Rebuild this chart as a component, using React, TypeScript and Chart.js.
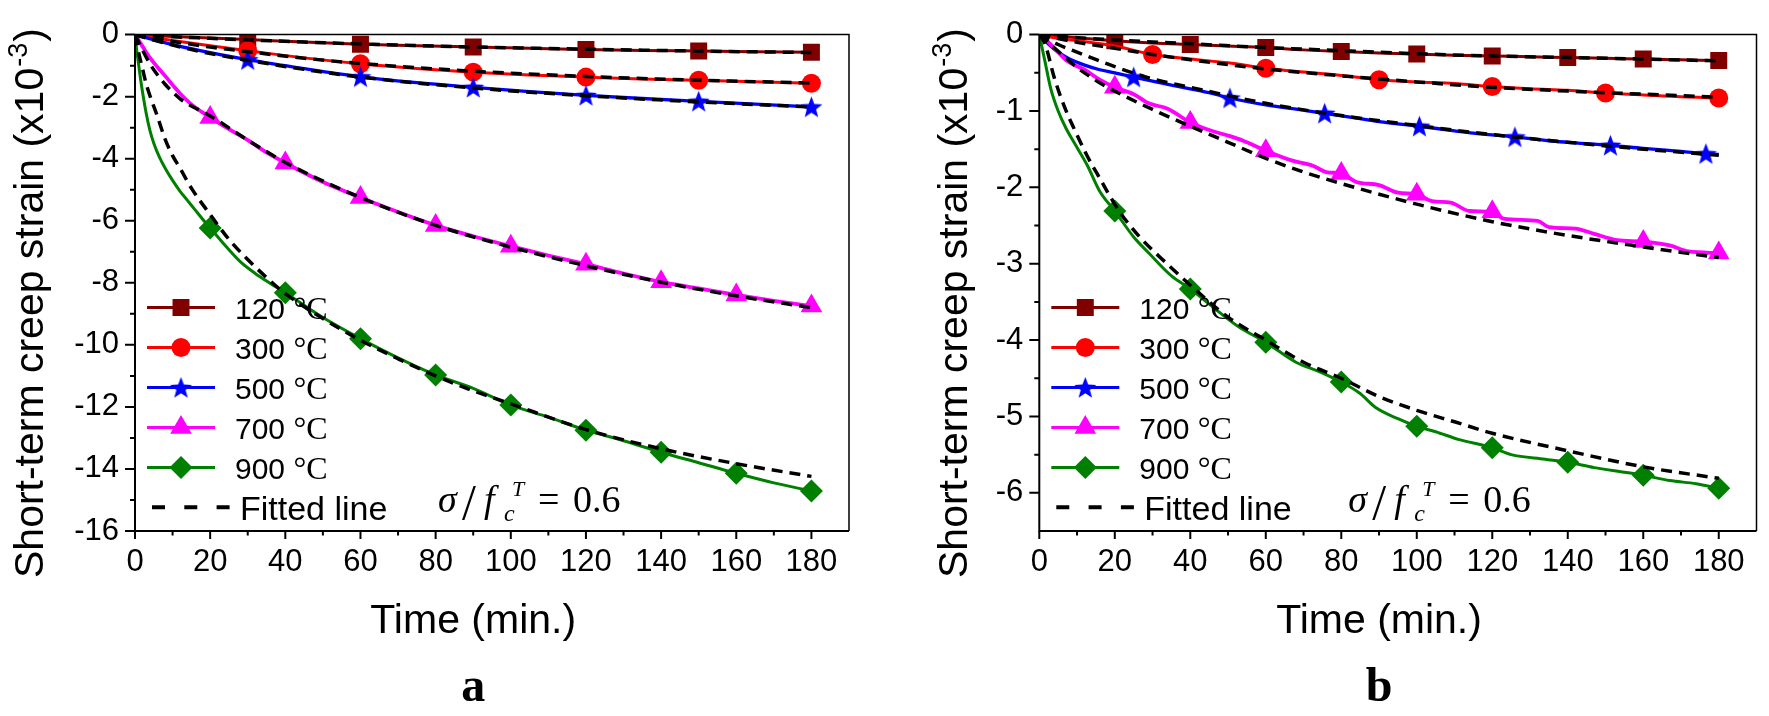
import React, { useEffect, useRef } from 'react';
import { Chart, registerables } from 'chart.js';

Chart.register(...registerables);

const SANS = "'Liberation Sans', Arial, Helvetica, sans-serif";
const SERIF = "'Liberation Serif', 'Times New Roman', Times, serif";

// ---------- axes ----------
const X_MIN = 0;
const X_MAX = 190;
const X_TICKS = [0, 20, 40, 60, 80, 100, 120, 140, 160, 180];
const X_MINOR = [10, 30, 50, 70, 90, 110, 130, 150, 170];
const A_Y_TICKS = [0, -2, -4, -6, -8, -10, -12, -14, -16];
const A_Y_MINOR = [-1, -3, -5, -7, -9, -11, -13, -15];
const B_Y_TICKS = [0, -1, -2, -3, -4, -5, -6];
const B_Y_MINOR = [-0.5, -1.5, -2.5, -3.5, -4.5, -5.5];

// ---------- text ----------
const TEMPS = ['120', '300', '500', '700', '900'];
const UNIT = '°C';
const FIT_LABEL = 'Fitted line';
const X_TITLE = 'Time (min.)';
const Y_TITLE = 'Short-term creep strain (x10';
const Y_TITLE_SUP = '-3';
const Y_TITLE_END = ')';

// ---------- panel a : measured ----------
const A_T120 = [0, 10, 20, 30, 45, 60, 75, 90, 105, 120, 135, 150, 165, 180];
const A_V120 = [0, -0.06, -0.11, -0.16, -0.24, -0.31, -0.36, -0.40, -0.44, -0.48, -0.51, -0.53, -0.55, -0.57];
const A_M120 = [30, 60, 90, 120, 150, 180];

const A_T300 = [0, 5, 10, 20, 30, 45, 60, 75, 90, 105, 120, 135, 150, 165, 180];
const A_V300 = [0, -0.1, -0.19, -0.36, -0.52, -0.75, -0.94, -1.09, -1.21, -1.30, -1.37, -1.43, -1.47, -1.52, -1.57];
const A_M300 = [30, 60, 90, 120, 150, 180];

const A_T500 = [0, 5, 10, 20, 30, 45, 60, 75, 90, 105, 120, 135, 150, 165, 180];
const A_V500 = [0, -0.17, -0.32, -0.58, -0.81, -1.1, -1.36, -1.55, -1.70, -1.84, -1.96, -2.06, -2.15, -2.24, -2.33];
const A_M500 = [30, 60, 90, 120, 150, 180];

const A_T700 = [0, 2, 4, 6, 8, 10, 12, 15, 20, 25, 30, 35, 40, 50, 60, 70, 80, 90, 100, 110, 120, 130, 140, 150, 160, 170, 180];
const A_V700 = [0, -0.38, -0.75, -1.05, -1.33, -1.62, -1.9, -2.25, -2.67, -3.05, -3.4, -3.8, -4.14, -4.75, -5.25, -5.72, -6.15, -6.5, -6.82, -7.12, -7.40, -7.7, -7.97, -8.18, -8.39, -8.58, -8.75];
const A_M700 = [20, 40, 60, 80, 100, 120, 140, 160, 180];

const A_T900 = [0, 0.5, 1, 1.5, 2, 3, 4, 5, 6.5, 8, 10, 12, 14, 16, 18, 20, 24, 28, 32, 36, 40, 50, 60, 70, 80, 90, 100, 110, 120, 130, 140, 150, 160, 170, 180];
const A_V900 = [0, -0.55, -1.0, -1.45, -1.85, -2.55, -3.1, -3.5, -3.95, -4.3, -4.7, -5.05, -5.35, -5.65, -5.95, -6.23, -6.8, -7.32, -7.7, -8.02, -8.32, -9.12, -9.80, -10.42, -10.97, -11.4, -11.94, -12.33, -12.75, -13.09, -13.46, -13.8, -14.14, -14.45, -14.71];
const A_M900 = [20, 40, 60, 80, 100, 120, 140, 160, 180];

// ---------- panel a : fitted ----------
const A_FT120 = [0, 5, 10, 20, 30, 45, 60, 90, 120, 150, 180];
const A_FV120 = [0, -0.04, -0.07, -0.12, -0.17, -0.24, -0.30, -0.40, -0.47, -0.53, -0.58];
const A_FT300 = [0, 5, 10, 20, 30, 45, 60, 90, 120, 150, 180];
const A_FV300 = [0, -0.12, -0.22, -0.40, -0.55, -0.76, -0.93, -1.18, -1.35, -1.47, -1.56];
const A_FT500 = [0, 5, 10, 20, 30, 45, 60, 90, 120, 150, 180];
const A_FV500 = [0, -0.18, -0.34, -0.61, -0.83, -1.12, -1.37, -1.72, -1.97, -2.17, -2.33];
const A_FT700 = [0, 2, 4, 6, 8, 10, 12, 15, 20, 30, 40, 60, 80, 100, 120, 140, 160, 180];
const A_FV700 = [0, -0.5, -0.95, -1.3, -1.6, -1.85, -2.07, -2.3, -2.62, -3.4, -4.12, -5.25, -6.15, -6.85, -7.45, -7.98, -8.42, -8.8];
const A_FT900 = [0, 1, 2, 3, 4, 6, 8, 10, 12, 15, 20, 25, 30, 35, 40, 50, 60, 70, 80, 90, 100, 120, 140, 160, 180];
const A_FV900 = [0, -0.6, -1.1, -1.6, -1.98, -2.65, -3.37, -3.9, -4.31, -4.95, -5.8, -6.6, -7.25, -7.83, -8.35, -9.15, -9.85, -10.45, -11.0, -11.48, -11.9, -12.73, -13.35, -13.83, -14.24];

// ---------- panel b : measured ----------
const B_T120 = [0, 10, 20, 30, 40, 50, 60, 70, 80, 90, 100, 110, 120, 130, 140, 150, 160, 170, 180];
const B_V120 = [0, -0.04, -0.08, -0.11, -0.13, -0.15, -0.17, -0.2, -0.22, -0.24, -0.255, -0.27, -0.28, -0.29, -0.30, -0.31, -0.32, -0.33, -0.34];
const B_M120 = [20, 40, 60, 80, 100, 120, 140, 160, 180];

const B_T300 = [0, 5, 10, 20, 30, 40, 50, 60, 70, 80, 90, 100, 110, 120, 130, 140, 150, 160, 170, 180];
const B_V300 = [0, -0.05, -0.08, -0.15, -0.26, -0.32, -0.37, -0.44, -0.49, -0.535, -0.59, -0.62, -0.64, -0.68, -0.71, -0.73, -0.765, -0.79, -0.815, -0.83];
const B_M300 = [30, 60, 90, 120, 150, 180];

const B_T500 = [0, 3, 5, 8, 12, 16, 20, 25, 30, 38, 45, 50.5, 60, 70, 75.6, 85, 90, 100.7, 110, 115, 126, 135, 140, 151.3, 160, 170, 176.6, 180];
const B_V500 = [0, -0.15, -0.23, -0.32, -0.4, -0.46, -0.5, -0.556, -0.61, -0.69, -0.76, -0.83, -0.92, -0.99, -1.03, -1.1, -1.14, -1.2, -1.26, -1.29, -1.34, -1.39, -1.41, -1.45, -1.49, -1.53, -1.56, -1.57];
const B_M500 = [25, 50.5, 75.6, 100.7, 126, 151.3, 176.6];

const B_T700 = [0, 2, 4, 7.5, 12, 16, 20, 25, 29, 34, 40, 45, 50.5, 54, 60, 67, 72.6, 76, 80, 84, 90, 95, 100, 104, 109, 114, 120, 123, 132, 135, 142, 147, 153, 160, 167, 172, 180];
const B_V700 = [0, -0.08, -0.18, -0.35, -0.46, -0.59, -0.69, -0.78, -0.9, -0.97, -1.15, -1.25, -1.33, -1.39, -1.52, -1.65, -1.72, -1.8, -1.82, -1.93, -1.97, -2.07, -2.09, -2.18, -2.2, -2.31, -2.32, -2.41, -2.44, -2.52, -2.54, -2.61, -2.69, -2.71, -2.76, -2.84, -2.86];
const B_M700 = [20, 40, 60, 80, 100, 120, 140, 160, 180];

const B_T900 = [0, 1.5, 3, 5, 7, 9.3, 12.7, 16, 20, 25, 29, 35, 40, 46, 52.6, 60, 68, 74, 80, 85, 89, 95, 100, 105, 111, 120, 125, 134, 140, 147, 155, 160, 167, 174, 180];
const B_V900 = [0, -0.35, -0.7, -1.0, -1.22, -1.42, -1.71, -2.05, -2.31, -2.65, -2.86, -3.16, -3.33, -3.57, -3.82, -4.03, -4.29, -4.41, -4.55, -4.7, -4.88, -5.03, -5.13, -5.2, -5.3, -5.41, -5.5, -5.56, -5.6, -5.67, -5.73, -5.77, -5.84, -5.88, -5.94];
const B_M900 = [20, 40, 60, 80, 100, 120, 140, 160, 180];

// ---------- panel b : fitted ----------
const B_FT120 = [0, 10, 20, 40, 60, 80, 100, 120, 140, 160, 180];
const B_FV120 = [0, -0.04, -0.07, -0.12, -0.17, -0.21, -0.25, -0.28, -0.30, -0.32, -0.345];
const B_FT300 = [0, 10, 20, 30, 40, 60, 80, 100, 120, 140, 160, 180];
const B_FV300 = [0, -0.1, -0.18, -0.26, -0.33, -0.45, -0.54, -0.62, -0.69, -0.74, -0.78, -0.82];
const B_FT500 = [0, 5, 10, 20, 30, 40, 60, 80, 100, 120, 140, 160, 180];
const B_FV500 = [0, -0.13, -0.23, -0.42, -0.58, -0.69, -0.90, -1.06, -1.19, -1.31, -1.41, -1.5, -1.58];
const B_FT700 = [0, 2, 5, 10, 15, 20, 30, 40, 50, 60, 70, 80, 100, 120, 140, 160, 180];
const B_FV700 = [0, -0.09, -0.22, -0.43, -0.6, -0.74, -0.98, -1.2, -1.41, -1.62, -1.8, -1.95, -2.22, -2.45, -2.63, -2.78, -2.92];
const B_FT900 = [0, 1.5, 4, 6.7, 9.3, 12.7, 16, 21, 26.6, 33.6, 40, 50, 60, 70, 80, 90, 100, 110, 120, 140, 160, 180];
const B_FV900 = [0, -0.12, -0.57, -0.95, -1.24, -1.59, -1.88, -2.3, -2.65, -2.99, -3.28, -3.7, -4.0, -4.29, -4.5, -4.74, -4.92, -5.07, -5.22, -5.45, -5.66, -5.81];

// ---------- styles ----------
const COLORS = ['#800000', '#ff0000', '#0000ff', '#ff00ff', '#008000'];
const STYLES = ['rect', 'circle', 'star', 'triangle', 'rectRot'];
const RADII = [12, 9.5, 11.5, 12.5, 11.5];
const LINE_WIDTHS = [3, 3, 3.3, 3.8, 3];

function makeStar(color: string, R: number) {
  const c = document.createElement('canvas');
  const size = Math.ceil(R * 2 + 2);
  c.width = size;
  c.height = size;
  const g = c.getContext('2d') as CanvasRenderingContext2D;
  g.fillStyle = color;
  g.beginPath();
  for (let i = 0; i < 10; i++) {
    const r = i % 2 === 0 ? R : R * 0.42;
    const a = -Math.PI / 2 + (i * Math.PI) / 5;
    g.lineTo(size / 2 + r * Math.cos(a), size / 2 + 1 + r * Math.sin(a));
  }
  g.closePath();
  g.fill();
  return c;
}

function drawMarker(ctx: any, style: string, x: number, y: number, color: string, r: number, star: any) {
  ctx.save();
  ctx.fillStyle = color;
  if (style === 'star') {
    ctx.drawImage(star, x - star.width / 2, y - star.height / 2);
    ctx.restore();
    return;
  }
  ctx.beginPath();
  if (style === 'rect') {
    const s = r * Math.SQRT1_2;
    ctx.rect(x - s, y - s, 2 * s, 2 * s);
  } else if (style === 'circle') {
    ctx.arc(x, y, r, 0, Math.PI * 2);
  } else if (style === 'triangle') {
    ctx.moveTo(x, y - r);
    ctx.lineTo(x + 0.866 * r, y + 0.5 * r);
    ctx.lineTo(x - 0.866 * r, y + 0.5 * r);
    ctx.closePath();
  } else if (style === 'rectRot') {
    ctx.moveTo(x - r, y);
    ctx.lineTo(x, y - r);
    ctx.lineTo(x + r, y);
    ctx.lineTo(x, y + r);
    ctx.closePath();
  }
  ctx.fill();
  ctx.restore();
}

const PANEL_A = {
  measured: [
    [A_T120, A_V120, A_M120],
    [A_T300, A_V300, A_M300],
    [A_T500, A_V500, A_M500],
    [A_T700, A_V700, A_M700],
    [A_T900, A_V900, A_M900],
  ],
  fitted: [
    [A_FT120, A_FV120],
    [A_FT300, A_FV300],
    [A_FT500, A_FV500],
    [A_FT700, A_FV700],
    [A_FT900, A_FV900],
  ],
  yMin: -16,
  yTicks: A_Y_TICKS,
  yMinor: A_Y_MINOR,
  yAxisWidth: 135,
  rightPad: 31,
  yTitleX: 43,
  sigmaDX: 303,
  letter: 'a',
};

const PANEL_B = {
  measured: [
    [B_T120, B_V120, B_M120],
    [B_T300, B_V300, B_M300],
    [B_T500, B_V500, B_M500],
    [B_T700, B_V700, B_M700],
    [B_T900, B_V900, B_M900],
  ],
  fitted: [
    [B_FT120, B_FV120],
    [B_FT300, B_FV300],
    [B_FT500, B_FV500],
    [B_FT700, B_FV700],
    [B_FT900, B_FV900],
  ],
  yMin: -6.5,
  yTicks: B_Y_TICKS,
  yMinor: B_Y_MINOR,
  yAxisWidth: 159.3,
  rightPad: 0.7,
  yTitleX: 87,
  sigmaDX: 309,
  letter: 'b',
};

function decorPlugin(P: any, star: any) {
  return {
    id: 'decor' + P.letter,
    afterDraw(chart: any) {
      const ctx = chart.ctx;
      const { left, right, top, bottom } = chart.chartArea;
      const xs = chart.scales.x;
      const ys = chart.scales.y;
      ctx.save();
      ctx.strokeStyle = '#000';
      ctx.fillStyle = '#000';
      ctx.lineCap = 'butt';
      // ticks
      ctx.lineWidth = 2;
      ctx.beginPath();
      for (const v of X_TICKS) {
        const p = xs.getPixelForValue(v);
        ctx.moveTo(p, bottom);
        ctx.lineTo(p, bottom + 8);
      }
      for (const v of X_MINOR) {
        const p = xs.getPixelForValue(v);
        ctx.moveTo(p, bottom);
        ctx.lineTo(p, bottom + 4.5);
      }
      for (const v of P.yTicks) {
        const p = ys.getPixelForValue(v);
        ctx.moveTo(left, p);
        ctx.lineTo(left - 10, p);
      }
      for (const v of P.yMinor) {
        const p = ys.getPixelForValue(v);
        ctx.moveTo(left, p);
        ctx.lineTo(left - 5, p);
      }
      ctx.stroke();
      // axis lines
      ctx.beginPath();
      ctx.moveTo(left, top);
      ctx.lineTo(left, bottom + 1);
      ctx.moveTo(left - 1, bottom);
      ctx.lineTo(right, bottom);
      ctx.stroke();
      ctx.lineWidth = 1.5;
      ctx.beginPath();
      ctx.moveTo(left, top);
      ctx.lineTo(right, top);
      ctx.lineTo(right, bottom);
      ctx.stroke();

      // legend
      ctx.textAlign = 'left';
      ctx.textBaseline = 'alphabetic';
      TEMPS.forEach((temp, i) => {
        const yRow = 307.5 + 40 * i;
        ctx.strokeStyle = COLORS[i];
        ctx.lineWidth = 3;
        ctx.beginPath();
        ctx.moveTo(left + 12, yRow);
        ctx.lineTo(left + 80, yRow);
        ctx.stroke();
        drawMarker(ctx, STYLES[i], left + 46, yRow, COLORS[i], RADII[i], star);
        ctx.fillStyle = '#000';
        ctx.font = `30px ${SANS}`;
        ctx.fillText(temp + ' ', left + 100, yRow + 11);
        const w = ctx.measureText(temp + ' ').width;
        ctx.font = `32px ${SERIF}`;
        ctx.fillText(UNIT, left + 100 + w, yRow + 11);
      });
      ctx.strokeStyle = '#000';
      ctx.lineWidth = 4;
      ctx.beginPath();
      for (let k = 0; k < 3; k++) {
        ctx.moveTo(left + 17 + 32.3 * k, 507.3);
        ctx.lineTo(left + 30 + 32.3 * k, 507.3);
      }
      ctx.stroke();
      ctx.font = `34px ${SANS}`;
      ctx.fillText(FIT_LABEL, left + 105, 520);

      // sigma annotation
      const sx = left + P.sigmaDX;
      ctx.font = `italic 38px ${SERIF}`;
      ctx.fillText('σ', sx, 512);
      ctx.font = `50px ${SERIF}`;
      ctx.fillText('/', sx + 24, 519);
      ctx.font = `italic 38px ${SERIF}`;
      ctx.fillText('f', sx + 46, 512);
      ctx.font = `italic 24px ${SERIF}`;
      ctx.fillText('c', sx + 66, 521);
      ctx.font = `italic 22px ${SERIF}`;
      ctx.fillText('T', sx + 74, 496);
      ctx.font = `38px ${SERIF}`;
      ctx.fillText('=', sx + 100, 512);
      ctx.fillText('0.6', sx + 135, 512);

      // x title & panel letter
      const cx = xs.getPixelForValue(90);
      ctx.textAlign = 'center';
      ctx.font = `41px ${SANS}`;
      ctx.fillText(X_TITLE, cx, 633);
      ctx.font = `bold 48px ${SERIF}`;
      ctx.fillText(P.letter, cx, 701);

      // y title, fitted to the measured length of 550 px
      ctx.save();
      ctx.translate(P.yTitleX, 578);
      ctx.rotate(-Math.PI / 2);
      ctx.textAlign = 'left';
      const base = 42;
      ctx.font = `${base}px ${SANS}`;
      const m1 = ctx.measureText(Y_TITLE).width + ctx.measureText(Y_TITLE_END).width;
      ctx.font = `${base * 0.66}px ${SANS}`;
      const m2 = ctx.measureText(Y_TITLE_SUP).width;
      const fs = (base * 550) / (m1 + m2 + 2);
      ctx.font = `${fs}px ${SANS}`;
      ctx.fillText(Y_TITLE, 0, 0);
      const w1 = ctx.measureText(Y_TITLE).width;
      ctx.font = `${fs * 0.66}px ${SANS}`;
      ctx.fillText(Y_TITLE_SUP, w1 + 1, -fs * 0.4);
      const w2 = ctx.measureText(Y_TITLE_SUP).width;
      ctx.font = `${fs}px ${SANS}`;
      ctx.fillText(Y_TITLE_END, w1 + w2 + 2, 0);
      ctx.restore();

      ctx.restore();
    },
  };
}

function buildConfig(P: any, star: any): any {
  const datasets: any[] = [];
  P.fitted.forEach((f: any) => {
    const [t, v] = f;
    datasets.push({
      data: t.map((x: number, k: number) => ({ x, y: v[k] })),
      borderColor: '#000',
      borderWidth: 3.5,
      borderDash: [11, 7],
      borderCapStyle: 'butt',
      pointRadius: 0,
      pointHoverRadius: 0,
      cubicInterpolationMode: 'monotone',
      fill: false,
      order: 0,
    });
  });
  P.measured.forEach((m: any, i: number) => {
    const [t, v, marks] = m;
    const rad = (c: any) => (c.raw && marks.includes(c.raw.x) ? RADII[i] : 0);
    datasets.push({
      data: t.map((x: number, k: number) => ({ x, y: v[k] })),
      borderColor: COLORS[i],
      backgroundColor: COLORS[i],
      borderWidth: LINE_WIDTHS[i],
      pointStyle: STYLES[i] === 'star' ? star : STYLES[i],
      pointRadius: rad,
      pointHoverRadius: rad,
      pointBorderWidth: 0,
      pointBackgroundColor: COLORS[i],
      pointBorderColor: COLORS[i],
      cubicInterpolationMode: 'monotone',
      fill: false,
      order: 5 - i,
    });
  });
  return {
    type: 'line',
    data: { datasets },
    options: {
      responsive: false,
      animation: false,
      devicePixelRatio: 1,
      events: [],
      layout: { padding: { top: 20.7, right: P.rightPad, bottom: 0, left: 0 } },
      plugins: { legend: { display: false }, tooltip: { enabled: false }, title: { display: false } },
      scales: {
        x: {
          type: 'linear',
          min: X_MIN,
          max: X_MAX,
          afterBuildTicks: (s: any) => {
            s.ticks = X_TICKS.map((value) => ({ value }));
          },
          afterFit: (s: any) => {
            s.height = 185;
          },
          grid: { display: false, drawTicks: false },
          border: { display: false },
          ticks: {
            padding: 13,
            color: '#000',
            maxRotation: 0,
            autoSkip: false,
            font: { family: SANS, size: 31 },
            callback: (v: any) => String(v),
          },
        },
        y: {
          type: 'linear',
          min: P.yMin,
          max: 0,
          afterBuildTicks: (s: any) => {
            s.ticks = P.yTicks.map((value: number) => ({ value }));
          },
          afterFit: (s: any) => {
            s.width = P.yAxisWidth;
          },
          grid: { display: false, drawTicks: false },
          border: { display: false },
          ticks: {
            padding: 16,
            color: '#000',
            autoSkip: false,
            font: { family: SANS, size: 31 },
            callback: (v: any) => String(v),
          },
        },
      },
    },
    plugins: [decorPlugin(P, star)],
  };
}

export default function App() {
  const refA = useRef<HTMLCanvasElement>(null);
  const refB = useRef<HTMLCanvasElement>(null);
  useEffect(() => {
    const star = makeStar(COLORS[2], 11.5);
    const a = new Chart(refA.current as HTMLCanvasElement, buildConfig(PANEL_A, star));
    const b = new Chart(refB.current as HTMLCanvasElement, buildConfig(PANEL_B, star));
    return () => {
      a.destroy();
      b.destroy();
    };
  }, []);
  return (
    <div style={{ position: 'fixed', left: 0, top: 0, width: 1769, height: 716, background: '#fff', overflow: 'hidden' }}>
      <canvas ref={refA} width={880} height={716} style={{ position: 'absolute', left: 0, top: 0 }} />
      <canvas ref={refB} width={889} height={716} style={{ position: 'absolute', left: 880, top: 0 }} />
    </div>
  );
}
